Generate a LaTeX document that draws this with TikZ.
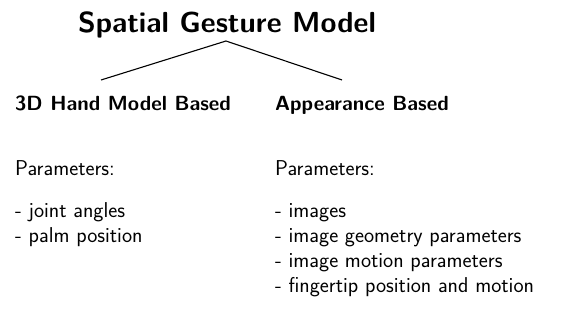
\documentclass[tikz,border=0pt]{standalone}
\begin{document}
\begin{tikzpicture}[x=1pt,y=-1pt,
  title/.style={anchor=base,inner sep=0pt,font=\sffamily\bfseries\fontsize{29}{34}\selectfont},
  head/.style={anchor=base west,inner sep=0pt,font=\sffamily\bfseries\fontsize{20.5}{25}\selectfont},
  txt/.style={anchor=base west,inner sep=0pt,font=\sffamily\fontsize{21.5}{25}\selectfont},
  branch/.style={line width=1.1pt}]
\useasboundingbox (0,0) rectangle (566,323);
\node[title] (root) at (227,33) {Spatial Gesture Model};
\coordinate (apex) at (226,41);
\coordinate (lend) at (101,80);
\coordinate (rend) at (342,80);
\draw[branch] (lend) -- (apex) -- (rend);
\node[head] (hand) at (15,111) {3D Hand Model Based};
\node[head] (app) at (275,111) {Appearance Based};
\node[txt] (hp) at (15,176) {Parameters:};
\node[txt] (ap) at (275,176) {Parameters:};
\node[txt] (h1) at (15,218) {- joint angles};
\node[txt] (h2) at (15,243) {- palm position};
\node[txt] (a1) at (275,218) {- images};
\node[txt] (a2) at (275,243) {- image geometry parameters};
\node[txt] (a3) at (275,268) {- image motion parameters};
\node[txt] (a4) at (275,293) {- fingertip position and motion};
\end{tikzpicture}
\end{document}
